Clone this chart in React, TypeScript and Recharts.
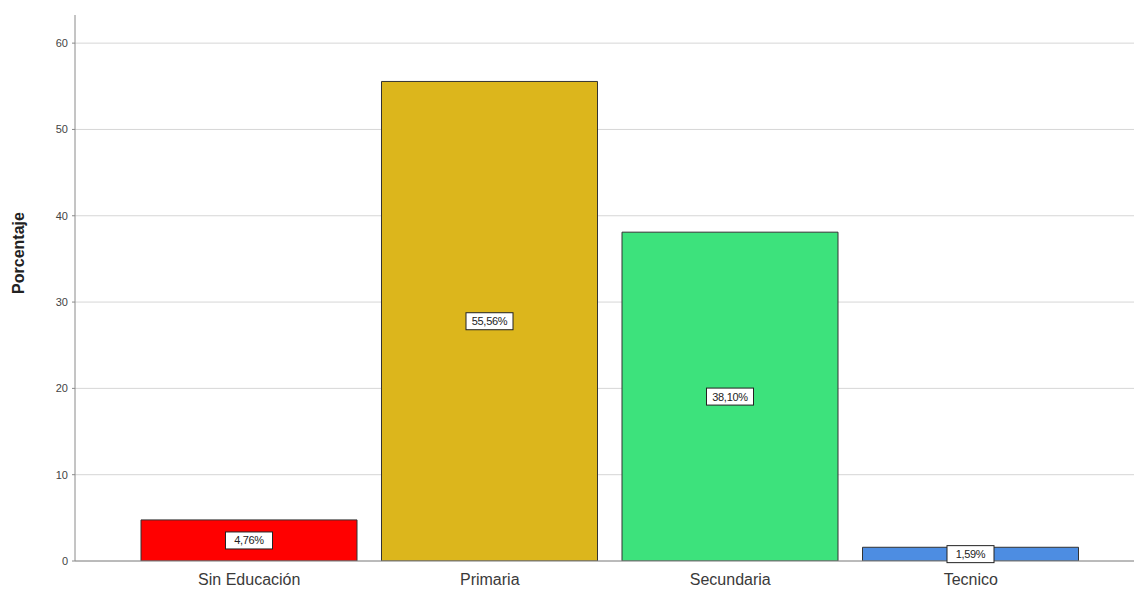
import React from "react";
import { BarChart, Bar, XAxis, YAxis, CartesianGrid, Cell, LabelList } from "recharts";

const categories = ["Sin Educación", "Primaria", "Secundaria", "Tecnico"];
const percentages = [4.76, 55.56, 38.1, 1.59];
const barColors = ["#ff0000", "#dcb61c", "#3de27c", "#4d8de2"];
const yTicks = [0, 10, 20, 30, 40, 50, 60];

const data = categories.map((c, i) => ({ name: c, value: percentages[i] }));

const fmt = (v: number) => v.toFixed(2).replace(".", ",") + "%";

const BoxLabel = (props: any) => {
  const { x, y, width, height, value } = props;
  const cx = x + width / 2;
  const cy = y + height / 2;
  const w = 47;
  const h = 17;
  return (
    <g>
      <rect x={cx - w / 2} y={cy - h / 2} width={w} height={h} fill="#ffffff" stroke="#222" strokeWidth={1} />
      <text x={cx} y={cy} textAnchor="middle" dominantBaseline="central" fontSize={11} fill="#222" fontFamily="'Liberation Sans', Arial, sans-serif" letterSpacing={-0.3}>
        {fmt(value)}
      </text>
    </g>
  );
};

export default function App() {
  return (
    <div style={{ position: "absolute", left: 0, top: 0, width: 1134, height: 592, background: "#fff" }}>
      <BarChart
        width={1134}
        height={592}
        data={data}
        margin={{ top: 15, right: 0, bottom: 0, left: 0 }}
        barSize={216}
      >
        <CartesianGrid vertical={false} stroke="#d6d6d6" horizontalValues={yTicks} />
        <XAxis
          dataKey="name"
          height={31}
          padding={{ left: 54, right: 43 }}
          tickLine={false}
          tickSize={4}
          tickMargin={9}
          axisLine={{ stroke: "#8a8a8a" }}
          tick={{ fontSize: 16, fill: "#3a3a3a", fontFamily: "'Liberation Sans', Arial, sans-serif" }}
        />
        <YAxis
          width={75}
          domain={[0, 63.26]}
          ticks={yTicks}
          allowDataOverflow
          tickSize={3}
          tickMargin={4}
          axisLine={{ stroke: "#8a8a8a" }}
          tickLine={{ stroke: "#8a8a8a" }}
          tick={{ fontSize: 11, fill: "#444", fontFamily: "'Liberation Sans', Arial, sans-serif" }}
          label={{
            value: "Porcentaje",
            angle: -90,
            position: "insideLeft",
            offset: 18,
            dy: -35,
            style: { fontSize: 16, fontWeight: "bold", fill: "#222", textAnchor: "middle", fontFamily: "'Liberation Sans', Arial, sans-serif" },
          }}
        />
        <Bar dataKey="value" isAnimationActive={false} stroke="#333" strokeWidth={1}>
          {data.map((d, i) => (
            <Cell key={d.name} fill={barColors[i]} />
          ))}
          <LabelList dataKey="value" content={BoxLabel} />
        </Bar>
      </BarChart>
    </div>
  );
}
